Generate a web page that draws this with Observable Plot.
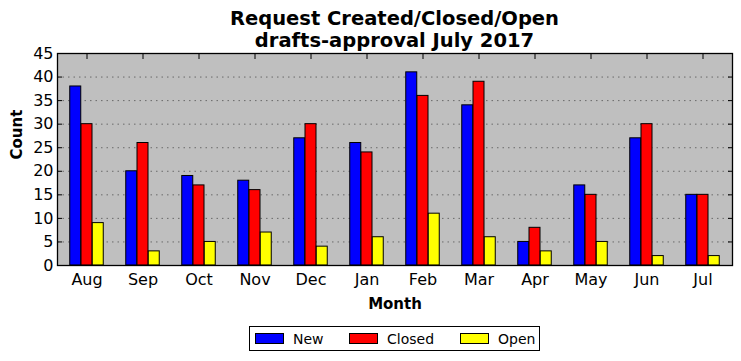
<!DOCTYPE html>
<html><head><meta charset="utf-8">
<script src="https://cdn.jsdelivr.net/npm/d3@7"></script>
<script src="https://cdn.jsdelivr.net/npm/@observablehq/plot@0.6"></script>
<style>
body{margin:0;background:#fff;font-family:"DejaVu Sans",sans-serif;width:741px;height:361px;position:relative;overflow:hidden;}
#title{position:absolute;left:57px;top:8px;width:675px;text-align:center;font-weight:bold;font-size:19.5px;line-height:22px;color:#000;}
#chart{position:absolute;left:0;top:46px;}
#legend{position:absolute;left:249px;top:326px;width:289px;height:23px;border:1px solid #000;font-size:14px;box-sizing:content-box;}
.item{display:flex;align-items:center;position:absolute;top:0;height:23px;}
.sw{width:27px;height:9px;border:1px solid #000;margin-right:9px;}
</style></head>
<body>
<div id="title">Request Created/Closed/Open<br>drafts-approval July 2017</div>
<div id="chart"></div>
<div id="legend"></div>
<script>
const months = ["Aug","Sep","Oct","Nov","Dec","Jan","Feb","Mar","Apr","May","Jun","Jul"];
const newCounts = [38,20,19,18,27,26,41,34,5,17,27,15];
const closedCounts = [30,26,17,16,30,24,36,39,8,15,30,15];
const openCounts = [9,3,5,7,4,6,11,6,3,5,2,2];
const seriesNames = ["New","Closed","Open"];
const seriesColors = ["#0000ff","#ff0000","#ffff00"];
const yTicks = [0,5,10,15,20,25,30,35,40,45];

const table = months.map((m,i)=>({month:m, New:newCounts[i], Closed:closedCounts[i], Open:openCounts[i]}));

const W = 741, H = 270, mL = 57, mR = 9;
const step = (W - mL - mR) / months.length;
const barW = step * 0.2;

const plot = Plot.plot({
  width: W, height: H,
  marginTop: 7, marginBottom: 51, marginLeft: mL, marginRight: mR,
  style: {fontFamily: "DejaVu Sans", fontSize: "16px", color: "#000", background: "transparent", overflow: "visible"},
  x: {type: "band", domain: months, paddingInner: 0.8, paddingOuter: 0.4},
  y: {domain: [0, 45]},
  marks: [
    Plot.frame({fill: "#bfbfbf", stroke: null}),
    Plot.gridY(yTicks.slice(1, -1), {stroke: "#000", strokeOpacity: 0.45, strokeDasharray: "1.5,4", strokeWidth: 1}),
    ...seriesNames.map((s, k) => Plot.barY(table, {x: "month", y: s, fill: seriesColors[k], stroke: "#000", strokeWidth: 1, dx: (k - 1) * barW})),
    Plot.axisY(yTicks, {anchor: "left", tickSize: 0, tickPadding: 4, label: null}),
    Plot.axisY(yTicks, {anchor: "left", text: null, tickSize: -5, label: null}),
    Plot.axisY(yTicks, {anchor: "right", text: null, tickSize: -5, label: null}),
    Plot.axisX(months, {anchor: "bottom", tickSize: 0, tickPadding: 8, label: null}),
    Plot.axisX(months, {anchor: "top", text: null, tickSize: -5, label: null}),
    Plot.frame({stroke: "#000", strokeWidth: 1.3}),
    Plot.text(["Month"], {frameAnchor: "bottom", dy: 43, text: d => d, fontWeight: "bold", fontSize: 15}),
    Plot.text(["Count"], {frameAnchor: "left", dx: -40, rotate: -90, text: d => d, fontWeight: "bold", fontSize: 15})
  ]
});
document.getElementById("chart").appendChild(plot);

const lg = document.getElementById("legend");
const lefts = [5, 99, 210];
seriesNames.forEach((s, k) => {
  const it = document.createElement("div");
  it.className = "item";
  it.style.left = lefts[k] + "px";
  const sw = document.createElement("div");
  sw.className = "sw";
  sw.style.background = seriesColors[k];
  it.appendChild(sw);
  it.appendChild(document.createTextNode(s));
  lg.appendChild(it);
});
</script>
</body></html>
